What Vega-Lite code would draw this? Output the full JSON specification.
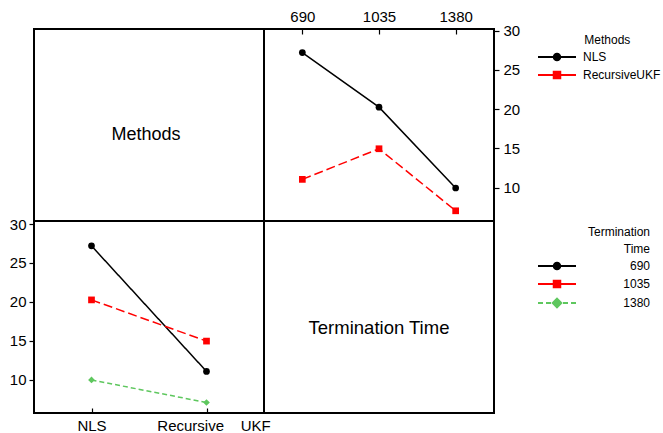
{
  "$schema": "https://vega.github.io/schema/vega-lite/v6.json",
  "padding": {"left": 8, "top": 8, "right": 5, "bottom": 5},
  "background": "white",
  "datasets": {
    "main": [
      {"method": "NLS", "time": 690, "value": 27.2},
      {"method": "NLS", "time": 1035, "value": 20.25},
      {"method": "NLS", "time": 1380, "value": 9.95},
      {"method": "RecursiveUKF", "time": 690, "value": 11.05},
      {"method": "RecursiveUKF", "time": 1035, "value": 14.95},
      {"method": "RecursiveUKF", "time": 1380, "value": 7.05}
    ]
  },
  "columns": 2,
  "spacing": 0,
  "bounds": "flush",
  "concat": [
    {
      "width": 230,
      "height": 192,
      "data": {"values": [{"label": "Methods", "px": 0.5, "py": 0.5}]},
      "mark": {"type": "text", "fontSize": 18, "font": "Liberation Sans", "color": "#000", "dx": -3, "dy": 10},
      "encoding": {
        "x": {"field": "px", "type": "quantitative", "scale": {"domain": [0, 1]}, "axis": null},
        "y": {"field": "py", "type": "quantitative", "scale": {"domain": [0, 1]}, "axis": null},
        "text": {"field": "label"}
      }
    },
    {
      "width": 230,
      "height": 192,
      "data": {"name": "main"},
      "encoding": {
        "x": {"field": "time", "type": "ordinal", "scale": {"domain": [690, 1035, 1380], "padding": 0.5},
          "axis": {"orient": "top", "title": null, "labelAngle": 0, "tickSize": -5, "labelPadding": 10}},
        "y": {"field": "value", "type": "quantitative", "scale": {"domain": [5.75, 30.2], "nice": false, "zero": false},
          "axis": {"orient": "right", "title": null, "values": [10, 15, 20, 25, 30], "tickSize": 5, "labelPadding": 4}}
      },
      "layer": [
        {
          "transform": [{"filter": "datum.method == 'NLS'"}],
          "mark": {"type": "line", "strokeWidth": 1.5, "color": "#000000"}
        },
        {
          "transform": [{"filter": "datum.method == 'RecursiveUKF'"}],
          "mark": {"type": "line", "strokeWidth": 1.5, "color": "#FF0000", "strokeDash": [9, 4]}
        },
        {
          "transform": [{"filter": "datum.method == 'NLS'"}],
          "mark": {"type": "point", "filled": true, "opacity": 1, "size": 45, "shape": "circle", "color": "#000000"}
        },
        {
          "transform": [{"filter": "datum.method == 'RecursiveUKF'"}],
          "mark": {"type": "point", "filled": true, "opacity": 1, "size": 45, "shape": "square", "color": "#FF0000"}
        },
        {
          "transform": [{"filter": "false"}],
          "mark": {"type": "point", "filled": true, "opacity": 1},
          "encoding": {
            "fill": {"field": "method", "type": "nominal", "scale": {"domain": ["NLS", "RecursiveUKF"], "range": ["#000000", "#FF0000"]},
              "legend": {"title": "\u200b\u00a0\u00a0\u00a0\u00a0\u00a0\u00a0\u00a0\u00a0\u00a0\u00a0Methods", "orient": "right", "offset": 25, "padding": 6, "symbolSize": 100, "symbolStrokeWidth": 2, "labelOffset": 20}},
            "stroke": {"field": "method", "type": "nominal", "scale": {"domain": ["NLS", "RecursiveUKF"], "range": ["#000000", "#FF0000"]},
              "legend": {"title": "\u200b\u00a0\u00a0\u00a0\u00a0\u00a0\u00a0\u00a0\u00a0\u00a0\u00a0Methods", "orient": "right", "offset": 25, "padding": 6, "symbolSize": 100, "symbolStrokeWidth": 2, "labelOffset": 20}},
            "shape": {"field": "method", "type": "nominal",
              "scale": {"domain": ["NLS", "RecursiveUKF"], "range": [
                "M-3.8,0H3.8M0.65,0A0.65,0.65,0,1,1,-0.65,0A0.65,0.65,0,1,1,0.65,0Z",
                "M-3.8,0H3.8M-0.65,-0.65H0.65V0.65H-0.65Z"]},
              "legend": {"title": "\u200b\u00a0\u00a0\u00a0\u00a0\u00a0\u00a0\u00a0\u00a0\u00a0\u00a0Methods", "orient": "right", "offset": 25, "padding": 6, "symbolSize": 100, "symbolStrokeWidth": 2, "labelOffset": 20}}
          }
        }
      ]
    },
    {
      "width": 230,
      "height": 192,
      "data": {"name": "main"},
      "layer": [
        {
          "mark": {"type": "line", "strokeWidth": 1.5},
          "encoding": {
            "x": {"field": "method", "type": "nominal", "scale": {"type": "point", "domain": ["NLS", "RecursiveUKF"], "padding": 0.5},
              "axis": {"orient": "bottom", "title": null, "labelAngle": 0, "tickSize": -5, "labelPadding": 10,
                "labelExpr": "datum.value == 'RecursiveUKF' ? 'Recursive\u00a0\u00a0\u00a0\u00a0UKF' : datum.label",
                "labelOffset": {"expr": "datum.value == 'RecursiveUKF' ? 7 : 0"}}},
            "y": {"field": "value", "type": "quantitative", "scale": {"domain": [5.7, 30.4], "nice": false, "zero": false},
              "axis": {"orient": "left", "title": null, "values": [10, 15, 20, 25, 30], "tickSize": 5, "labelPadding": 3}},
            "color": {"field": "time", "type": "ordinal", "scale": {"domain": [690, 1035, 1380], "range": ["#000000", "#FF0000", "#5EC75E"]}, "legend": null},
            "strokeDash": {"field": "time", "type": "ordinal", "scale": {"domain": [690, 1035, 1380], "range": [[1, 0], [9, 4], [5, 3]]}, "legend": null}
          }
        },
        {
          "mark": {"type": "point", "filled": true, "opacity": 1},
          "encoding": {
            "x": {"field": "method", "type": "nominal"},
            "y": {"field": "value", "type": "quantitative"},
            "color": {"field": "time", "type": "ordinal", "legend": null},
            "shape": {"field": "time", "type": "ordinal", "scale": {"domain": [690, 1035, 1380], "range": ["circle", "square", "diamond"]}, "legend": null},
            "size": {"field": "time", "type": "ordinal", "scale": {"domain": [690, 1035, 1380], "range": [45, 45, 80]}, "legend": null}
          }
        }
      ]
    },
    {
      "width": 230,
      "height": 192,
      "layer": [
        {
          "data": {"values": [{"label": "Termination Time", "px": 0.5, "py": 0.5}]},
          "mark": {"type": "text", "fontSize": 18.5, "font": "Liberation Sans", "color": "#000", "dy": 11},
          "encoding": {
            "x": {"field": "px", "type": "quantitative", "scale": {"domain": [0, 1]}, "axis": null},
            "y": {"field": "py", "type": "quantitative", "scale": {"domain": [0, 1]}, "axis": null},
            "text": {"field": "label"}
          }
        },
        {
          "data": {"name": "main"},
          "transform": [{"filter": "false"}],
          "mark": {"type": "point", "filled": true, "opacity": 1},
          "encoding": {
            "fill": {"field": "time", "type": "ordinal", "scale": {"domain": [690, 1035, 1380], "range": ["#000000", "#FF0000", "#5EC75E"]},
              "legend": {"title": ["Termination", "Time"], "orient": "right", "offset": 51, "padding": 6, "symbolSize": 100, "symbolStrokeWidth": 2, "titleAlign": "right", "titleAnchor": "end", "labelAlign": "right", "labelOffset": 87, "titleLineHeight": 17}},
            "stroke": {"field": "time", "type": "ordinal", "scale": {"domain": [690, 1035, 1380], "range": ["#000000", "#FF0000", "#5EC75E"]},
              "legend": {"title": ["Termination", "Time"], "orient": "right", "offset": 51, "padding": 6, "symbolSize": 100, "symbolStrokeWidth": 2, "titleAlign": "right", "titleAnchor": "end", "labelAlign": "right", "labelOffset": 87, "titleLineHeight": 17}},
            "shape": {"field": "time", "type": "ordinal",
              "scale": {"domain": [690, 1035, 1380], "range": [
                "M-3.8,0H3.8M0.65,0A0.65,0.65,0,1,1,-0.65,0A0.65,0.65,0,1,1,0.65,0Z",
                "M-3.8,0H3.8M-0.65,-0.65H0.65V0.65H-0.65Z",
                "M-3.8,0H-2.8M-2.2,0H-1.2M1.2,0H2.2M2.8,0H3.8M0,-0.85L0.85,0L0,0.85L-0.85,0Z"]},
              "legend": {"title": ["Termination", "Time"], "orient": "right", "offset": 51, "padding": 6, "symbolSize": 100, "symbolStrokeWidth": 2, "titleAlign": "right", "titleAnchor": "end", "labelAlign": "right", "labelOffset": 87, "titleLineHeight": 17}}
          }
        }
      ]
    }
  ],
  "resolve": {
    "scale": {"x": "independent", "y": "independent", "color": "independent", "shape": "independent", "strokeDash": "independent", "fill": "independent", "stroke": "independent", "size": "independent"},
    "legend": {"fill": "independent", "stroke": "independent", "shape": "independent"}
  },
  "config": {
    "font": "Liberation Sans",
    "view": {"stroke": "#000000", "strokeWidth": 2},
    "axis": {"domain": false, "grid": false, "labelFont": "Liberation Sans", "labelFontSize": 15, "labelColor": "#000000", "tickColor": "#000000", "tickWidth": 1.2},
    "legend": {"labelFont": "Liberation Sans", "labelFontSize": 12, "labelColor": "#000000", "titleFont": "Liberation Sans", "titleFontSize": 12, "titleFontWeight": "normal", "titleColor": "#000000", "titlePadding": 4, "rowPadding": 2, "titleLineHeight": 17}
  }
}
